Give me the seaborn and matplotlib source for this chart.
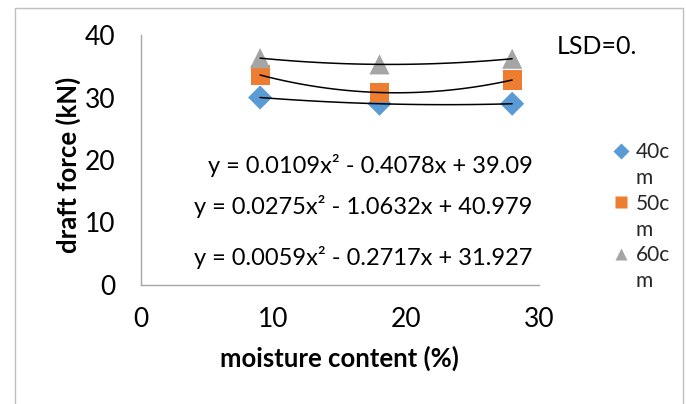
import matplotlib
matplotlib.use("Agg")
import matplotlib.pyplot as plt
from matplotlib.patches import Rectangle
from matplotlib.lines import Line2D
import seaborn as sns
import pandas as pd

# ---- data ----
moisture = [9, 18, 28]
depth_labels = ["40cm", "50cm", "60cm"]
force_40 = [30.0, 29.0, 29.0]
force_50 = [33.6, 30.8, 32.8]
force_60 = [36.3, 35.3, 36.2]
equations = [
    "y = 0.0109x² - 0.4078x + 39.09",
    "y = 0.0275x² - 1.0632x + 40.979",
    "y = 0.0059x² - 0.2717x + 31.927",
]
x_ticks = [0, 10, 20, 30]
y_ticks = [0, 10, 20, 30, 40]

colors = ["#5B9BD5", "#ED7D31", "#A5A5A5"]
markers = ["D", "s", "^"]
sizes = [150, 190, 210]

df = pd.DataFrame({
    "moisture": moisture * 3,
    "force": force_40 + force_50 + force_60,
    "depth": [d for d in depth_labels for _ in moisture],
})

sns.set_theme(style="white")
FONT = ["Lato", "DejaVu Sans"]
plt.rcParams["font.family"] = FONT

fig = plt.figure(figsize=(6.86, 4.04), dpi=100)
ax = fig.add_axes([140.7 / 686, 1 - 285 / 404, 398 / 686, 250 / 404])

# trendlines (2nd order polynomial)
for depth in depth_labels:
    sub = df[df["depth"] == depth]
    sns.regplot(data=sub, x="moisture", y="force", order=2, ci=None,
                scatter=False, truncate=True, ax=ax,
                line_kws=dict(color="black", lw=1.1, zorder=3))

for depth, c, m, s in zip(depth_labels, colors, markers, sizes):
    sub = df[df["depth"] == depth]
    sns.scatterplot(data=sub, x="moisture", y="force", color=c, marker=m,
                    s=s, edgecolor="none", ax=ax, zorder=2, legend=False)

ax.set_xlim(0, 30)
ax.set_ylim(0, 40)
ax.set_xticks(x_ticks)
ax.set_yticks(y_ticks)
spine_c = "#A6A6A6"
for side in ["top", "right"]:
    ax.spines[side].set_visible(False)
for side in ["left", "bottom"]:
    ax.spines[side].set_color(spine_c)
    ax.spines[side].set_linewidth(1.0)
ax.tick_params(axis="both", direction="out", length=6, width=1.0,
               color=spine_c, labelsize=19, labelcolor="black")
ax.tick_params(axis="x", pad=10)
ax.tick_params(axis="y", pad=12)
ax.set_xticklabels([str(t) for t in x_ticks])
ax.set_yticklabels([str(t) for t in y_ticks])

ax.set_xlabel("moisture content (%)", fontsize=18.5, fontweight="bold", color="black")
ax.set_ylabel("draft force (kN)", fontsize=18.5, fontweight="bold", color="black")
ax.xaxis.set_label_coords(0.5, -0.292)
ax.xaxis.label.set_verticalalignment("center")
ax.yaxis.set_label_coords(-0.183, 0.48)
ax.yaxis.label.set_verticalalignment("center")

eq_y = [17.9, 11.4, 3.2]
for txt, yy in zip(equations, eq_y):
    ax.text(29.56, yy, txt, ha="right", va="baseline", fontsize=17, color="black")

fig.text(557 / 686, 1 - 47 / 404, "LSD=0.", fontsize=18, ha="left", va="center", color="black")

# legend (label wraps onto a second line)
handles = []
labels = []
for depth, c, m in zip(depth_labels, colors, markers):
    handles.append(Line2D([], [], marker=m, color=c, linestyle="none", markersize=8,
                          markeredgecolor="none"))
    labels.append(depth[:3])
    handles.append(Line2D([], [], linestyle="none", marker=None))
    labels.append(depth[3:])
leg = fig.legend(handles, labels, loc="upper left",
                 bbox_to_anchor=(613 / 686, 1 - 142 / 404),
                 frameon=False, fontsize=15, handlelength=0.8, handletextpad=0.3,
                 labelspacing=0.28, borderpad=0, borderaxespad=0)

fig.add_artist(Rectangle((15 / 686, -0.02), (683 - 15) / 686, (404 - 8) / 404 + 0.02,
                         transform=fig.transFigure, fill=False,
                         edgecolor="#BFBFBF", lw=1.0))

fig.savefig("out.png", dpi=100)
